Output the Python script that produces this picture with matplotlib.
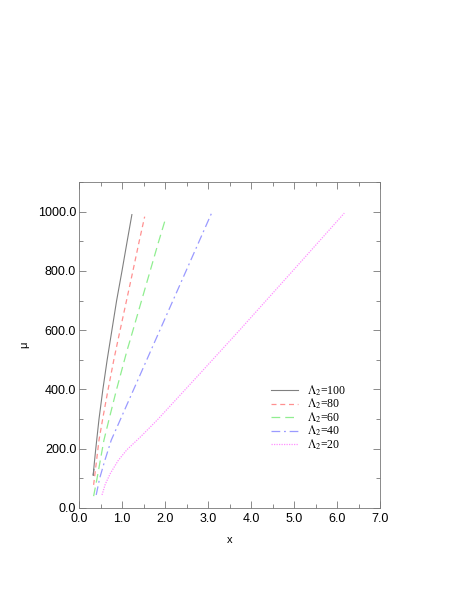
import numpy as np
import matplotlib
matplotlib.use('Agg')
import matplotlib.pyplot as plt
from matplotlib.ticker import MultipleLocator, FormatStrFormatter

# ============================================================================
# DATA
# ============================================================================
# Lambda_2 = 100
mu_100 = [130, 110, 150, 200, 300, 400, 500, 600, 700, 800, 900, 990]
x_100 = [0.345, 0.33, 0.355, 0.39, 0.465, 0.555, 0.655, 0.765, 0.875, 1.00, 1.12, 1.23]

# Lambda_2 = 80
mu_80 = [78, 150, 229, 300, 398, 500, 567, 700, 800, 900, 983]
x_80 = [0.34, 0.40, 0.465, 0.55, 0.674, 0.81, 0.907, 1.105, 1.254, 1.40, 1.527]

# Lambda_2 = 60
mu_60 = [40, 100, 229, 300, 398, 533, 567, 700, 800, 893, 975]
x_60 = [0.34, 0.42, 0.58, 0.70, 0.87, 1.12, 1.19, 1.455, 1.655, 1.84, 2.01]

# Lambda_2 = 40
mu_40 = [44, 100, 160, 229, 398, 567, 800, 994]
x_40 = [0.40, 0.48, 0.60, 0.75, 1.265, 1.78, 2.49, 3.08]

# Lambda_2 = 20
mu_20 = [44, 80, 117, 160, 196, 240, 297, 450, 601, 800, 995]
x_20 = [0.535, 0.61, 0.73, 0.91, 1.11, 1.43, 1.82, 2.79, 3.74, 4.97, 6.17]

labels = [r'$\Lambda_2$=100', r'$\Lambda_2$=80', r'$\Lambda_2$=60',
          r'$\Lambda_2$=40', r'$\Lambda_2$=20']

# ============================================================================
# PLOT
# ============================================================================
plt.rcParams['mathtext.fontset'] = 'stix'
plt.rcParams['font.family'] = ['Liberation Sans', 'DejaVu Sans']

fig = plt.figure(figsize=(4.58, 5.92), dpi=100)
ax = fig.add_axes([79 / 458, 84 / 592, 301 / 458, 326 / 592])

ax.plot(x_100, mu_100, color='#808080', lw=0.8, ls='-', label=labels[0])
ax.plot(x_80, mu_80, color='#ff9090', lw=0.9, ls=(0, (4, 3)), label=labels[1])
ax.plot(x_60, mu_60, color='#90ee90', lw=0.9, ls=(0, (7, 4)), label=labels[2])
ax.plot(x_40, mu_40, color='#9a9aff', lw=0.9, ls=(0, (7, 3, 1.5, 3)), label=labels[3])
ax.plot(x_20, mu_20, color='#ff90ff', lw=0.9, ls=(0, (1, 1)), label=labels[4])

ax.set_xlim(0, 7)
ax.set_ylim(0, 1100)
ax.xaxis.set_major_locator(MultipleLocator(1.0))
ax.xaxis.set_minor_locator(MultipleLocator(0.5))
ax.yaxis.set_major_locator(MultipleLocator(200))
ax.yaxis.set_minor_locator(MultipleLocator(100))
ax.xaxis.set_major_formatter(FormatStrFormatter('%.1f'))
ax.yaxis.set_major_formatter(FormatStrFormatter('%.1f'))
ax.tick_params(which='both', direction='in', top=True, right=True,
               labelsize=9, color='#777777', width=0.6, pad=2)
ax.tick_params(axis='x', which='major', pad=3.5)
ax.tick_params(which='major', length=5)
ax.tick_params(which='minor', length=3)
for sp in ax.spines.values():
    sp.set_linewidth(0.6)
    sp.set_color('#777777')

ax.set_xlabel('x', fontsize=8, labelpad=7)
ax.set_ylabel('μ', fontsize=8, labelpad=6, rotation=90)

ax.legend(loc='upper left', bbox_to_anchor=(0.638, 0.383), frameon=False,
          prop={'family': ['Liberation Serif', 'DejaVu Serif'], 'size': 8.5},
          handlelength=2.3, handletextpad=0.72, labelspacing=-0.08,
          borderpad=0.0, borderaxespad=0.0)

fig.savefig('out.png', dpi=100)
